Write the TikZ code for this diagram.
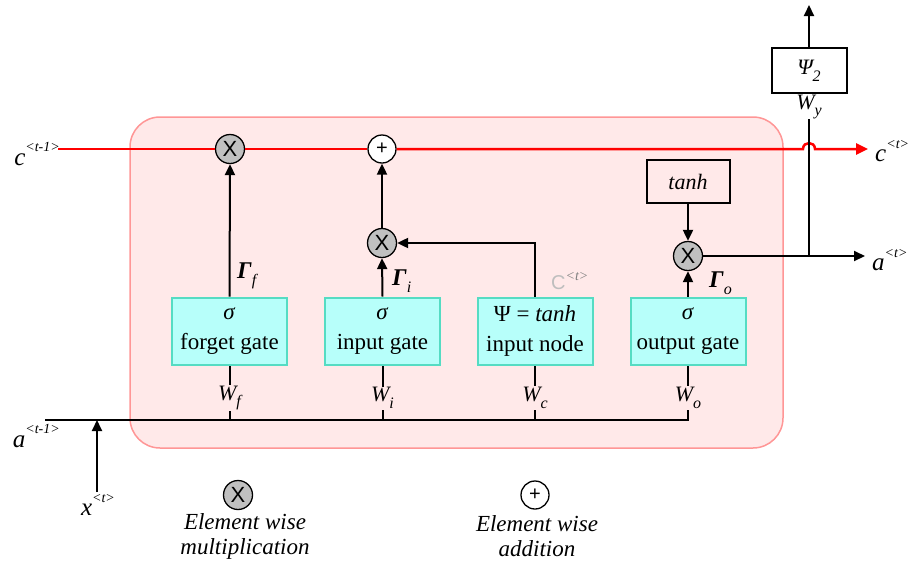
\documentclass[tikz,border=0pt]{standalone}
\usepackage{fontspec}
\setmainfont{Liberation Serif}
\newfontfamily\txtfont{Liberation Serif}
\newfontfamily\opfont{Liberation Sans}
\usetikzlibrary{arrows.meta}

\definecolor{cellbg}{RGB}{255,233,233}
\definecolor{celledge}{RGB}{255,150,150}
\definecolor{gatebg}{RGB}{183,255,250}
\definecolor{gateedge}{RGB}{85,220,195}
\definecolor{opgray}{RGB}{192,192,192}
\definecolor{cellred}{RGB}{255,0,0}
\definecolor{faint}{RGB}{190,190,190}

\newcommand{\fs}[1]{\txtfont\fontsize{#1}{#1}\selectfont}
\newcommand{\sups}[1]{\raisebox{0.55em}{\fs{14}\itshape #1}}
\newcommand{\subs}[1]{\raisebox{-0.3em}{\fs{16}\itshape #1}}

\tikzset{
  wire/.style={line width=2pt, draw=black},
  arr/.style={wire, -{Triangle[length=11pt,width=10pt]}},
  redwire/.style={line width=2.5pt, draw=cellred},
  mulop/.style={circle, draw=black, line width=1.3pt, fill=opgray, minimum size=29pt,
                inner sep=0pt, font=\opfont\fontsize{22}{22}\selectfont},
  addop/.style={circle, draw=black, line width=1.3pt, fill=white, minimum size=28pt,
                inner sep=0pt, font=\opfont\fontsize{20}{20}\selectfont},
  gatebox/.style={rectangle, draw=gateedge, line width=2pt, fill=gatebg,
                  minimum width=115pt, minimum height=67pt, inner sep=0pt,
                  align=center, font=\fs{23}},
  plainbox/.style={rectangle, draw=black, line width=2pt, inner sep=0pt, font=\fs{22}\itshape},
  wlabel/.style={fill=cellbg, inner sep=1pt, font=\fs{22}\itshape},
  glabel/.style={inner sep=0pt, font=\fs{24}},
  txt/.style={inner sep=0pt, font=\fs{25}\itshape},
}

\begin{document}
\begin{tikzpicture}[x=1pt, y=-1pt]
\useasboundingbox (0,0) rectangle (910,560);

% cell body
\node[draw=celledge, line width=1.5pt, fill=cellbg, rounded corners=30pt,
      minimum width=653pt, minimum height=331pt, inner sep=0pt] (cell) at (456.5,282.5) {};

% pointwise operators
\node[mulop] (mf) at (230,149) {X};
\node[addop] (add) at (382,149) {+};
\node[mulop] (mi) at (382,243) {X};
\node[mulop] (mo) at (688,256) {X};

% gates
\node[gatebox] (fg) at (229.5,331) {\textit{σ}\\[7pt]forget gate};
\node[gatebox, minimum height=67pt] (ig) at (382.5,331) {\textit{σ}\\[7pt]input gate};
\node[gatebox] (nd) at (535,331) {Ψ = \textit{tanh}\\[7pt]input node};
\node[gatebox] (og) at (688,331) {\textit{σ}\\[7pt]output gate};

% output squashing and prediction
\node[plainbox, minimum width=83pt, minimum height=43pt] (th) at (688,181.5) {tanh};
\node[plainbox, minimum width=75pt, minimum height=45pt] (psi) at (809,70.5) {Ψ\subs{2}};

% outer labels
\node[txt, anchor=east] (cprev) at (60,154) {c\sups{<t-1>}};
\node[txt, anchor=west] (cnext) at (875,151) {c\sups{<t>}};
\node[txt, anchor=west] (anext) at (872,260) {a\sups{<t>}};
\node[txt, anchor=north east] (aprev) at (60,424) {a\sups{<t-1>}};
\node[txt] (xin) at (98,505) {x\sups{<t>}};
\node[inner sep=0pt, font=\fs{22}\itshape] (wy) at (809,107) {W\subs{y}};

% gate activations
\node[glabel, anchor=west] (gf) at (237,276) {\textbf{\textit{Γ}}\subs{f}};
\node[glabel, anchor=west] (gi) at (392,281) {\textbf{\textit{Γ}}\subs{i}};
\node[glabel, anchor=west] (go) at (709,283) {\textbf{\textit{Γ}}\subs{o}};
\node[inner sep=0pt, anchor=west, text=faint] (ct) at (551,281)
     {\opfont\fontsize{20}{20}\selectfont C\raisebox{0.45em}{\fs{14}\itshape\color{gray}<t>}};

% coordinates on the wires
\coordinate (cs) at (58,149);
\coordinate (jl) at (803,149);
\coordinate (jr) at (815,149);
\coordinate (cend) at (868,149);
\coordinate (aend) at (865,256);
\coordinate (ay) at (809,256);
\coordinate (top) at (809,5);
\coordinate (astart) at (45,420);
\coordinate (acorner) at (688,420);
\coordinate (xtail) at (97,492);
\coordinate (xhead) at (97,420);
\coordinate (ndturn) at (535,243);
\coordinate (bf) at (229.5,420);
\coordinate (bi) at (382.5,420);
\coordinate (bn) at (535,420);

% cell state
\draw[redwire] (cs) -- (mf.west);
\draw[redwire] (mf.east) -- (add.west);
\draw[redwire, -{Triangle[length=12pt,width=11pt]}] (add.east) -- (jl)
     to[out=90, in=90, looseness=1.7] (jr) -- (cend);

% hidden state and input
\draw[wire] (astart) -- (acorner) -- (og.south);
\draw[wire] (bf) -- (fg.south);
\draw[wire] (bi) -- (ig.south);
\draw[wire] (bn) -- (nd.south);
\draw[arr] (xtail) -- (xhead);

% weight labels
\node[wlabel] (wf) at (229.5,398) {W\subs{f}};
\node[wlabel] (wi) at (382.5,398) {W\subs{i}};
\node[wlabel] (wc) at (535,398) {W\subs{c}};
\node[wlabel] (wo) at (688,398) {W\subs{o}};

% gate outputs
\draw[arr] (fg.north) -- (mf.south);
\draw[arr] (ig.north) -- (mi.south);
\draw[arr] (mi.north) -- (add.south);
\draw[arr] (nd.north) -- (ndturn) -- (mi.east);
\draw[arr] (og.north) -- (mo.south);
\draw[arr] (th.south) -- (mo.north);

% hidden output and prediction
\draw[arr] (mo.east) -- (aend);
\draw[wire] (ay) -- (wy.south);
\draw[arr] (psi.north) -- (top);

% legend
\node[mulop] (lm) at (238,495) {X};
\node[addop] (la) at (535,495) {+};
\node[align=center, inner sep=0pt, font=\fs{23}\itshape] (lmt) at (245,536)
     {Element wise\\[2pt]multiplication};
\node[align=center, inner sep=0pt, font=\fs{23}\itshape] (lat) at (537,536)
     {Element wise\\[2pt]addition};
\end{tikzpicture}
\end{document}
